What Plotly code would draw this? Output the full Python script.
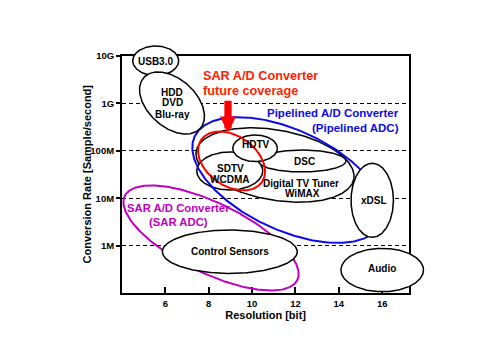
import numpy as np
import plotly.graph_objects as go

# ---------------- data ----------------
x_tick_vals = [6, 8, 10, 12, 14, 16]
y_tick_vals = [1e6, 1e7, 1e8, 1e9, 1e10]
y_tick_text = ["1M", "10M", "100M", "1G", "10G"]
x_range = [4.0, 17.25]          # resolution [bit]
y_log_range = [5.0, 10.0]       # log10 of conversion rate
x_title = "Resolution [bit]"
y_title = "Conversion Rate [Sample/second]"

# application / converter regions (ellipses)
# centre resolution [bit], centre rate [log10 S/s], half-span along major axis [bit],
# half-span along minor axis [decades], tilt [deg]
ell_names = ["SAR ADC", "Digital TV Tuner", "DSC", "SDTV", "HDTV", "Pipelined ADC",
             "SAR future", "xDSL", "Control Sensors", "Audio", "USB3.0", "HDD"]
ell_res = [8.105, 11.057, 12.30, 8.968, 10.138, 11.657, 9.051, 15.54, 8.972, 16.0, 5.554, 6.306]
ell_lograte = [6.164, 7.700, 7.784, 7.574, 8.051, 7.384, 7.784, 6.957, 5.875, 5.49, 9.893, 9.005]
ell_half_bits = [4.428, 3.690, 2.030, 1.522, 1.029, 4.751, 1.707, 0.978, 3.113, 1.905, 1.061, 1.753]
ell_half_dec = [0.737, 0.737, 0.231, 0.400, 0.280, 1.052, 0.526, 0.779, 0.457, 0.457, 0.311, 0.505]
ell_tilt = [26, 10, 0, 0, 0, 25, 35, 0, 0, 0, 0, 42]

# labels
lab_text = ["USB3.0", "HDD", "DVD", "Blu-ray", "HDTV", "SDTV", "WCDMA", "DSC",
            "Digital TV Tuner", "WiMAX", "xDSL", "Control Sensors", "Audio"]
lab_res = [5.554, 6.306, 6.306, 6.306, 10.172, 8.981, 8.935, 12.395, 12.256, 12.325, 15.617, 9.0, 16.0]
lab_lograte = [9.888, 9.236, 9.005, 8.773, 8.121, 7.616, 7.385, 7.774, 7.315, 7.094, 6.963, 5.890, 5.532]

sar_future_text = ["SAR A/D Converter", "future coverage"]
sar_future_res = [7.630, 7.630]
sar_future_lograte = [9.579, 9.263]

pipe_text = ["Pipelined A/D Converter", "(Pipelined ADC)"]
pipe_res = [16.855, 16.855]
pipe_lograte = [8.788, 8.472]

sar_text = ["SAR A/D Converter", "(SAR ADC)"]
sar_res = [6.597, 6.597]
sar_lograte = [6.801, 6.507]

arrow_res = 8.889
arrow_tip_lograte = 8.380
arrow_tail_lograte = 9.082

# ---------------- styles / layout ----------------
W, H = 500, 346
ML, MR, MT, MB = 100, 40, 30, 36
BOX_L, BOX_R, BOX_T, BOX_B = 122.0, 409.3, 55.7, 293.3
Y_TITLE_X = 87.0

RED, BLUE, PURPLE = "#ff0000", "#0a0ae8", "#c000c0"
ell_line = [PURPLE, "black", "black", "black", "black", BLUE, RED, "black", "black", "black", "black", "black"]
ell_fill = [False, True, True, True, True, False, False, True, True, True, True, True]
ell_width = [2, 1.5, 1.5, 1.5, 1.5, 2, 2, 1.5, 1.5, 1.5, 1.5, 1.5]

pw, ph = W - ML - MR, H - MT - MB
xd = [(BOX_L - ML) / pw, (BOX_R - ML) / pw]
yd = [(H - MB - BOX_B) / ph, (H - MB - BOX_T) / ph]


def ext(r, d):
    span = (r[1] - r[0]) / (d[1] - d[0])
    return [r[0] - d[0] * span, r[1] + (1 - d[1]) * span]


x2_range = ext(x_range, xd)
y2_range = ext(y_log_range, yd)
PXB = (BOX_R - BOX_L) / (x_range[1] - x_range[0])
PXD = (BOX_B - BOX_T) / (y_log_range[1] - y_log_range[0])

t = np.linspace(0, 2 * np.pi, 361)


def ellipse(cx, cy, a, b, tilt):
    u = a * PXB * np.cos(t)
    v = b * PXD * np.sin(t)
    th = np.radians(tilt)
    dx = u * np.cos(th) - v * np.sin(th)
    dy = u * np.sin(th) + v * np.cos(th)
    return cx + dx / PXB, 10 ** (cy - dy / PXD)


fig = go.Figure()
fig.add_trace(go.Scatter(x=[], y=[], xaxis="x", yaxis="y", showlegend=False))
for i in range(len(ell_names)):
    ex, ey = ellipse(ell_res[i], ell_lograte[i], ell_half_bits[i], ell_half_dec[i], ell_tilt[i])
    fig.add_trace(go.Scatter(
        x=ex, y=ey, xaxis="x2", yaxis="y2", mode="lines", name=ell_names[i],
        line=dict(color=ell_line[i], width=ell_width[i]),
        fill="toself" if ell_fill[i] else "none", fillcolor="white",
        hoverinfo="skip", showlegend=False))

FONT = 'Arial, "Liberation Sans", sans-serif'
ann = []
for txt, xr, yl in zip(lab_text, lab_res, lab_lograte):
    ann.append(dict(x=xr, y=yl, xref="x", yref="y", text=txt, showarrow=False,
                    font=dict(size=10, color="black", weight="bold", family=FONT)))
for txt, xr, yl in zip(sar_future_text, sar_future_res, sar_future_lograte):
    ann.append(dict(x=xr, y=yl, xref="x", yref="y", text=txt, showarrow=False, xanchor="left",
                    font=dict(size=12.7, color="#ff2200", weight="bold", family=FONT)))
for txt, xr, yl in zip(pipe_text, pipe_res, pipe_lograte):
    ann.append(dict(x=xr, y=yl, xref="x", yref="y", text=txt, showarrow=False, xanchor="right",
                    font=dict(size=11.5, color=BLUE, weight="bold", family=FONT)))
for txt, xr, yl in zip(sar_text, sar_res, sar_lograte):
    ann.append(dict(x=xr, y=yl, xref="x", yref="y", text=txt, showarrow=False,
                    font=dict(size=11.3, color=PURPLE, weight="bold", family=FONT)))
ann.append(dict(x=arrow_res, y=arrow_tip_lograte, xref="x", yref="y",
                ax=arrow_res, ay=arrow_tail_lograte, axref="x", ayref="y",
                text="", showarrow=True, arrowhead=2, arrowsize=0.44,
                arrowwidth=7.3, arrowcolor=RED))
# y-axis title
ann.append(dict(x=(Y_TITLE_X - ML) / pw, y=(yd[0] + yd[1]) / 2, xref="paper", yref="paper",
                text=y_title, textangle=-90, showarrow=False, xanchor="center", yanchor="middle",
                font=dict(size=11, color="black", weight="bold", family=FONT)))

fig.update_layout(
    width=W, height=H, margin=dict(l=ML, r=MR, t=MT, b=MB),
    paper_bgcolor="white", plot_bgcolor="rgba(0,0,0,0)", showlegend=False,
    font=dict(family=FONT, color="black", size=10),
    annotations=ann,
    xaxis=dict(domain=xd, range=x_range, anchor="y", tickvals=x_tick_vals,
               ticks="inside", ticklen=6, tickwidth=1.5, tickcolor="black",
               showline=True, linewidth=2, linecolor="black", mirror=True,
               showgrid=False, zeroline=False,
               tickfont=dict(size=9.5, weight="bold", family=FONT),
               title=dict(text=x_title, font=dict(size=11, weight="bold", family=FONT), standoff=4)),
    yaxis=dict(domain=yd, type="log", range=y_log_range, anchor="x",
               tickvals=y_tick_vals, ticktext=y_tick_text,
               ticks="outside", ticklen=4, tickwidth=1.5, tickcolor="black",
               showline=True, linewidth=2, linecolor="black", mirror=True,
               showgrid=True, gridcolor="black", gridwidth=1, griddash="4px,3px",
               zeroline=False,
               tickfont=dict(size=9.5, weight="bold", family=FONT)),
    xaxis2=dict(domain=[0, 1], range=x2_range, anchor="y2", visible=False, showgrid=False, zeroline=False),
    yaxis2=dict(domain=[0, 1], type="log", range=y2_range, anchor="x2", visible=False, showgrid=False, zeroline=False),
)

fig.write_html("out.html")
